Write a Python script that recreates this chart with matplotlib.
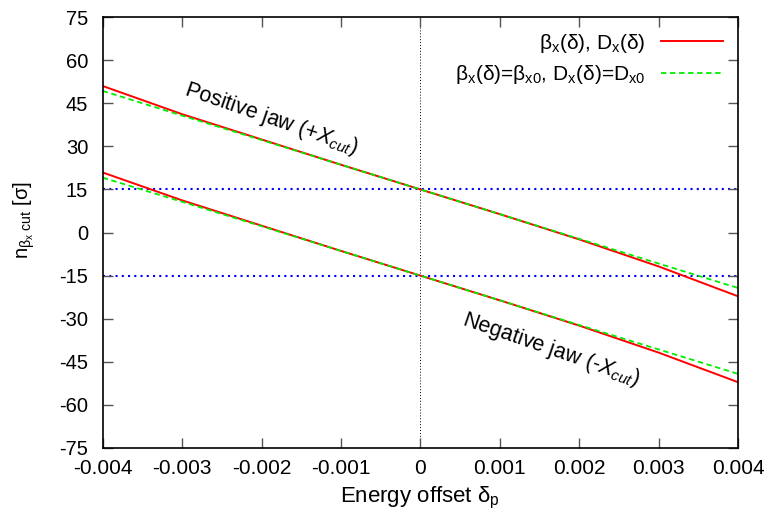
import matplotlib
matplotlib.use("Agg")
import matplotlib.pyplot as plt

plt.rcParams['font.family'] = ['Liberation Sans', 'DejaVu Sans']
plt.rcParams['axes.unicode_minus'] = False
plt.rcParams['mathtext.fontset'] = 'custom'
plt.rcParams['mathtext.rm'] = 'Liberation Sans'
plt.rcParams['mathtext.it'] = 'Liberation Sans:italic'
plt.rcParams['mathtext.bf'] = 'Liberation Sans:bold'

# energy offset values
delta = [-0.004, -0.003, -0.002, -0.001, 0.0, 0.001, 0.002, 0.003, 0.004]

# positive jaw (+X_cut)
pos_full = [51.0, 41.2, 32.4, 23.6, 15.0, 6.4, -2.4, -11.8, -22.2]
pos_const = [49.3, 40.7, 32.2, 23.6, 15.0, 6.4, -2.2, -10.8, -19.3]

# negative jaw (-X_cut)
neg_full = [20.9, 11.2, 2.4, -6.4, -15.0, -23.6, -32.4, -41.8, -52.1]
neg_const = [19.1, 10.7, 2.2, -6.4, -15.0, -23.6, -32.2, -40.7, -49.2]

cut_levels = [15, -15]
xticks = [-0.004, -0.003, -0.002, -0.001, 0, 0.001, 0.002, 0.003, 0.004]
xticklabels = ['-0.004', '-0.003', '-0.002', '-0.001', '0', '0.001', '0.002', '0.003', '0.004']
yticks = list(range(-75, 76, 15))

fig = plt.figure(figsize=(7.72, 5.17), dpi=100)
ax = fig.add_axes([0.133, 0.1335, 0.823, 0.8335])

for lvl in cut_levels:
    ax.axhline(lvl, color='#0000ff', linestyle=(0, (1, 2)), linewidth=1.5, zorder=1)
ax.axvline(0, color='black', linestyle=(0, (1, 2)), linewidth=0.7, zorder=1)

ax.plot(delta, pos_full, color='#ff0000', linewidth=1.4,
        label=r'β$_\mathrm{x}$(δ), D$_\mathrm{x}$(δ)')
ax.plot(delta, pos_const, color='#00ee00', linewidth=1.3, linestyle=(0, (3, 2)),
        label=r'β$_\mathrm{x}$(δ)=β$_\mathrm{x0}$, D$_\mathrm{x}$(δ)=D$_\mathrm{x0}$')
ax.plot(delta, neg_full, color='#ff0000', linewidth=1.4)
ax.plot(delta, neg_const, color='#00ee00', linewidth=1.3, linestyle=(0, (3, 2)))

ax.text(-0.00188, 39.5, r'Positive jaw (+$X_{cut}$)', rotation=-19, fontsize=15.5,
        ha='center', va='center', rotation_mode='anchor')
ax.text(0.00165, -40.8, r'Negative jaw (-$X_{cut}$)', rotation=-19, fontsize=15.5,
        ha='center', va='center', rotation_mode='anchor')

ax.set_xlim(-0.004, 0.004)
ax.set_ylim(-75, 75)
ax.set_xticks(xticks)
ax.set_xticklabels(xticklabels)
ax.set_yticks(yticks)
ax.tick_params(direction='in', length=7, width=1, color='#555555', top=True, right=True)
ax.tick_params(axis='x', pad=8, labelsize=15)
ax.tick_params(axis='y', pad=10.5, labelsize=14.5)
for s in ax.spines.values():
    s.set_linewidth(1.2)

ax.set_xlabel(r'Energy offset δ$_\mathrm{p}$', fontsize=16)
ax.set_ylabel(r'n$_{\mathrm{β_x\ cut}}$ [σ]', fontsize=14.5)
ax.yaxis.set_label_coords(-0.103, 0.53)
ax.xaxis.set_label_coords(0.5, -0.085)

ax.legend(loc='upper right', frameon=False, markerfirst=False, fontsize=15,
          handlelength=3.0, handletextpad=0.75, labelspacing=0.4, borderaxespad=0.5,
          borderpad=0.2)

fig.savefig('out.png', dpi=100)
